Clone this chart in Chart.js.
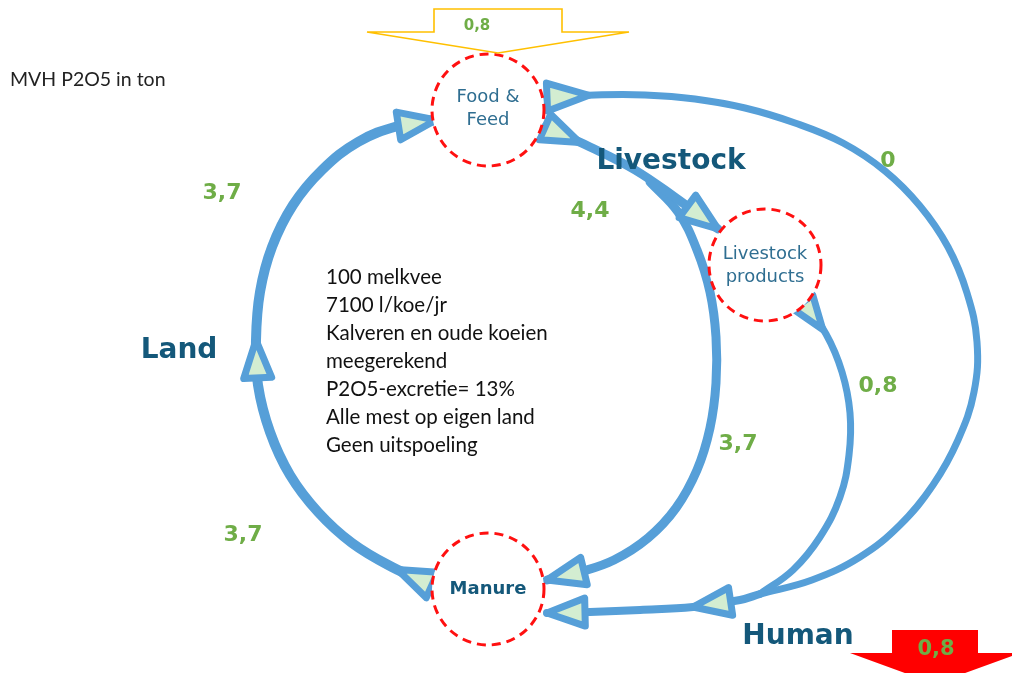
<!DOCTYPE html>
<html>
<head>
<meta charset="utf-8">
<script src="https://cdn.jsdelivr.net/npm/chart.js@4/dist/chart.umd.min.js"></script>
<style>
html,body{margin:0;padding:0;background:#fff;}
#wrap{width:1012px;height:673px;}
</style>
</head>
<body>
<div id="wrap"><canvas id="c" width="1012" height="673"></canvas></div>
<script>
// ---------- DATA ----------
const title = 'MVH P2O5 in ton';
const nodes = ['Food &\nFeed', 'Livestock\nproducts', 'Manure'];
const processes = ['Land', 'Livestock', 'Human'];
const flowNames = ['Manure → Land → Food & Feed', 'Food & Feed → Livestock', 'Livestock → Manure', 'Livestock products → Human', 'Food & Feed → Human', 'Human → Manure'];
const flowValues = [3.7, 3.7, 4.4, 3.7, 0.8, 0];
const flowValueNames = ['Manure → Land', 'Land → Food & Feed', 'Food & Feed → Livestock', 'Livestock → Manure', 'Livestock products → Human', 'Food & Feed → Human'];
const boundaryNames = ['Aanvoer', 'Afvoer'];
const boundaryValues = [0.8, 0.8];
const notes = ['100 melkvee', '7100 l/koe/jr', 'Kalveren en oude koeien', 'meegerekend', 'P2O5-excretie= 13%', 'Alle mest op eigen land', 'Geen uitspoeling'];

// ---------- LAYOUT (diagram units) ----------
const BLUE = '#569FD8', GREENFILL = '#D3EDD1', GREEN = '#6FAD47', TEAL = '#14587A', NODETXT = '#2F6E91';
const layout = {
  nodes: [{x:488, y:110}, {x:765, y:265}, {x:488, y:589}],
  nodeR: 56,
  processes: [{x:179, y:351}, {x:671, y:162}, {x:798, y:637}],
  flowLabels: [{x:243, y:535}, {x:222, y:193}, {x:590, y:211}, {x:738, y:444}, {x:878, y:386}, {x:888, y:161}],
  paths: [
    {w:10, pts:[[432,585],[392,567],[352,543],[318,512],[290,475],[270,432],[258,385],[256,340],[260,292],[272,247],[293,205],[322,170],[358,142],[398,126],[436,120]],
      marks:[{out:0,to:1},{at:7,from:6},{at:14,from:13}]},
    {w:9, pts:[[545,127],[590,147],[635,170],[676,198],[718,229]], marks:[{out:0,to:1},{at:4,from:3}]},
    {w:9, pts:[[650,182],[678,212],[697,250],[710,292],[716,337],[716,383],[710,428],[697,470],[676,508],[648,538],[614,560],[580,572],[547,580]], marks:[{at:12,from:11}]},
    {w:7, pts:[[803,302],[826,334],[842,372],[850,413],[849,455],[840,497],[820,537],[793,570],[760,594]], marks:[{out:0,to:1,L:34,hw:12}]},
    {w:7, pts:[[547,97],[595,95],[645,95],[695,99],[745,108],[795,123],[843,143],[885,171],[920,206],[948,247],[967,293],[977,342],[974,392],[958,440],[933,485],[900,525],[860,557],[812,580],[760,594]], marks:[{out:0,to:1,L:42,hw:14}]},
    {w:8, pts:[[760,594],[740,600],[693,607],[640,610],[590,612],[547,613]], marks:[{at:2,from:1},{at:5,from:4}]}
  ],
  importArrow: {pts:[[434,9],[562,9],[562,32],[629,32],[498,53],[367,32],[434,32]], label:{x:477,y:26}},
  exportArrow: {pts:[[892,630],[978,630],[978,653],[1020,653],[935,684],[850,653],[892,653]], label:{x:936,y:650}},
  notes: {x:326, y:277, dy:28},
  title: {x:10, y:80}
};

function fmt(v){ return v === 0 ? '0' : v.toLocaleString('nl-NL', {minimumFractionDigits:1, maximumFractionDigits:1}); }

// ---------- CHART ----------
const datasets = layout.paths.map((p, i) => ({
  label: flowNames[i],
  data: p.pts.map(([x,y]) => ({x, y})),
  showLine: true,
  tension: 0.4,
  borderColor: BLUE,
  borderWidth: p.w,
  borderCapStyle: 'round',
  borderJoinStyle: 'round',
  pointRadius: 0,
  pointHoverRadius: 0,
  fill: false,
  clip: false
}));

const diagram = {
  id: 'diagram',
  afterDatasetsDraw(chart) {
    const ctx = chart.ctx, sx = chart.scales.x, sy = chart.scales.y;
    const P = (x, y) => [sx.getPixelForValue(x), sy.getPixelForValue(y)];
    const rpx = Math.abs(sx.getPixelForValue(layout.nodeR) - sx.getPixelForValue(0));
    ctx.save();
    // arrow markers
    layout.paths.forEach(p => {
      const pts = p.pts.map(([x,y]) => P(x,y));
      p.marks.forEach(m => {
        const L = m.L || 38, hw = m.hw || 14;
        let tip, d;
        if (m.out !== undefined) {
          const a = pts[m.out], b = pts[m.to];
          const len = Math.hypot(b[0]-a[0], b[1]-a[1]);
          d = [(b[0]-a[0])/len, (b[1]-a[1])/len];
          tip = [a[0]+d[0]*L, a[1]+d[1]*L];
        } else {
          const a = pts[m.from], b = pts[m.at];
          const len = Math.hypot(b[0]-a[0], b[1]-a[1]);
          d = [(b[0]-a[0])/len, (b[1]-a[1])/len];
          tip = b;
        }
        const bx = tip[0]-d[0]*L, by = tip[1]-d[1]*L, px = -d[1], py = d[0];
        ctx.beginPath();
        ctx.moveTo(tip[0], tip[1]);
        ctx.lineTo(bx+px*hw, by+py*hw);
        ctx.lineTo(bx-px*hw, by-py*hw);
        ctx.closePath();
        ctx.fillStyle = GREENFILL; ctx.fill();
        ctx.lineWidth = 7; ctx.strokeStyle = BLUE; ctx.lineJoin = 'round'; ctx.stroke();
      });
    });
    // nodes
    layout.nodes.forEach((n, i) => {
      const [cx, cy] = P(n.x, n.y);
      ctx.beginPath(); ctx.arc(cx, cy, rpx, 0, Math.PI*2);
      ctx.fillStyle = '#fff'; ctx.fill();
      ctx.setLineDash([9, 6]); ctx.lineWidth = 3; ctx.strokeStyle = '#FF1010'; ctx.stroke();
      ctx.setLineDash([]);
      const lines = nodes[i].split('\n');
      ctx.textAlign = 'center'; ctx.textBaseline = 'middle';
      if (i === 2) { ctx.font = 'bold 18px "DejaVu Sans"'; ctx.fillStyle = TEAL; }
      else { ctx.font = '18px "DejaVu Sans"'; ctx.fillStyle = NODETXT; }
      const lh = 23, y0 = cy - (lines.length-1)*lh/2 - (i===0?1:(i===1?-1:0));
      lines.forEach((t, k) => ctx.fillText(t, cx, y0 + k*lh));
    });
    // import / export arrows
    const poly = (pts) => { ctx.beginPath(); pts.forEach(([x,y],k) => { const q = P(x,y); k ? ctx.lineTo(q[0],q[1]) : ctx.moveTo(q[0],q[1]); }); ctx.closePath(); };
    poly(layout.importArrow.pts); ctx.fillStyle = '#fff'; ctx.fill(); ctx.lineWidth = 1.6; ctx.strokeStyle = '#FFC000'; ctx.lineJoin='miter'; ctx.stroke();
    poly(layout.exportArrow.pts); ctx.fillStyle = '#FF0000'; ctx.fill();
    ctx.fillStyle = GREEN; ctx.textAlign = 'center'; ctx.textBaseline = 'middle';
    ctx.font = 'bold 15px "DejaVu Sans"';
    let q = P(layout.importArrow.label.x, layout.importArrow.label.y); ctx.fillText(fmt(boundaryValues[0]), q[0], q[1]);
    ctx.font = 'bold 21px "DejaVu Sans"';
    q = P(layout.exportArrow.label.x, layout.exportArrow.label.y); ctx.fillText(fmt(boundaryValues[1]), q[0], q[1]);
    // flow labels
    ctx.font = 'bold 22px "DejaVu Sans"';
    flowValues.forEach((v, i) => {
      const l = layout.flowLabels[i];
      const p = P(l.x, l.y); ctx.fillText(fmt(v), p[0], p[1]);
    });
    // process labels
    ctx.font = 'bold 28px "DejaVu Sans"'; ctx.fillStyle = TEAL;
    processes.forEach((t, i) => { const p = P(layout.processes[i].x, layout.processes[i].y); ctx.fillText(t, p[0], p[1]); });
    // notes
    ctx.textAlign = 'left'; ctx.fillStyle = '#111'; ctx.font = '20.5px Lato';
    notes.forEach((t, k) => { const p = P(layout.notes.x, layout.notes.y + k*layout.notes.dy); ctx.fillText(t, p[0], p[1]); });
    // title
    ctx.font = '19.5px Lato'; ctx.fillStyle = '#222';
    q = P(layout.title.x, layout.title.y); ctx.fillText(title, q[0], q[1]);
    ctx.restore();
  }
};

new Chart(document.getElementById('c'), {
  type: 'scatter',
  data: { datasets },
  options: {
    responsive: false,
    animation: false,
    layout: { padding: 0 },
    events: [],
    scales: {
      x: { type: 'linear', min: 0, max: 1012, display: false },
      y: { type: 'linear', min: 0, max: 673, reverse: true, display: false }
    },
    plugins: { legend: { display: false }, tooltip: { enabled: false }, title: { display: false } }
  },
  plugins: [diagram]
});
</script>
</body>
</html>
